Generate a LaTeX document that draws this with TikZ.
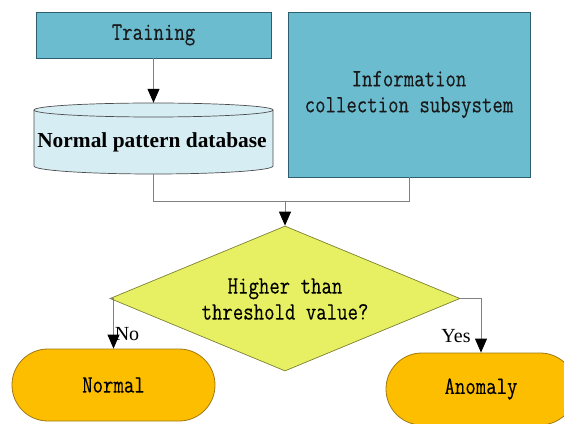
\documentclass[tikz,border=0pt]{standalone}
\usepackage{fontspec}
\setmainfont{Liberation Serif}
\newfontfamily\monof[FakeStretch=0.81,FakeBold=0.25]{Latin Modern Mono}
\usetikzlibrary{shapes.geometric,arrows.meta}
\definecolor{teal1}{RGB}{108,188,208}
\definecolor{tealline}{RGB}{45,95,112}
\definecolor{dbfill}{RGB}{214,237,244}
\definecolor{yel}{RGB}{230,240,98}
\definecolor{yelline}{RGB}{125,128,50}
\definecolor{org}{RGB}{253,190,0}
\definecolor{orgline}{RGB}{160,120,20}
\definecolor{conn}{RGB}{128,128,128}
\tikzset{
  x=1pt,y=1pt,
  tealbox/.style={draw=tealline,line width=0.8pt,fill=teal1,inner sep=0pt,
    font=\monof\fontsize{25}{26}\selectfont,align=center,text=black!90},
  term/.style={draw=orgline,line width=0.8pt,fill=org,rounded corners=35.9pt,
    minimum width=203pt,minimum height=72pt,inner sep=0pt,
    font=\monof\fontsize{25}{26}\selectfont},
  conline/.style={draw=conn,line width=0.9pt},
  arr/.style={conline,-{Triangle[length=14pt,width=12pt,color=black]}},
  lbl/.style={font=\fontsize{20}{22}\selectfont,inner sep=0pt}
}
\begin{document}
\begin{tikzpicture}
\useasboundingbox (0,0) rectangle (564,423);
% boxes
\node[tealbox,minimum width=235pt,minimum height=46pt] (train) at (153.5,388) {Training};
\node[tealbox,minimum width=242pt,minimum height=165pt] (info) at (409,328.5) {Information\\collection subsystem};
% database
\fill[dbfill] (34,313) arc[start angle=180,end angle=0,x radius=119.5,y radius=7]
  -- (273,257) arc[start angle=0,end angle=-180,x radius=119.5,y radius=8] -- cycle;
\draw[draw=black!70,line width=0.7pt] (34,313) arc[start angle=180,end angle=0,x radius=119.5,y radius=7]
  -- (273,257) arc[start angle=0,end angle=-180,x radius=119.5,y radius=8] -- cycle;
\draw[draw=black!70,line width=0.7pt] (34,313) arc[start angle=180,end angle=360,x radius=119.5,y radius=7];
\node[minimum width=239pt,minimum height=71pt,inner sep=0pt] (db) at (153.5,284.5) {};
\node[font=\bfseries\fontsize{21.4}{24}\selectfont,inner sep=0pt] (dbtext) at (152,281) {Normal pattern database};
% decision
\node[diamond,draw=yelline,line width=0.7pt,fill=yel,minimum width=350pt,minimum height=145pt,inner sep=0pt] (dec) at (285,124.5) {};
\node[font=\monof\fontsize{25}{26}\selectfont,align=center,inner sep=0pt] (dectext) at (285,124) {Higher than\\threshold value?};
% terminals
\node[term] (normal) at (113.5,38) {Normal};
\node[term,minimum width=190pt] (anom) at (481,34) {Anomaly};
% connectors
\draw[arr] (train.south) -- (db.north);
\coordinate (j) at (285,222);
\draw[conline] (db.south) -- (db.south |- j) -- (info.south |- j) -- (info.south);
\draw[arr] (j) -- (dec.north);
\draw[arr] (dec.west) -| (normal.north);
\draw[arr] (dec.east) -| (anom.north);
\node[lbl] (no) at (127,89) {No};
\node[lbl] (yes) at (456,87) {Yes};
\end{tikzpicture}
\end{document}
